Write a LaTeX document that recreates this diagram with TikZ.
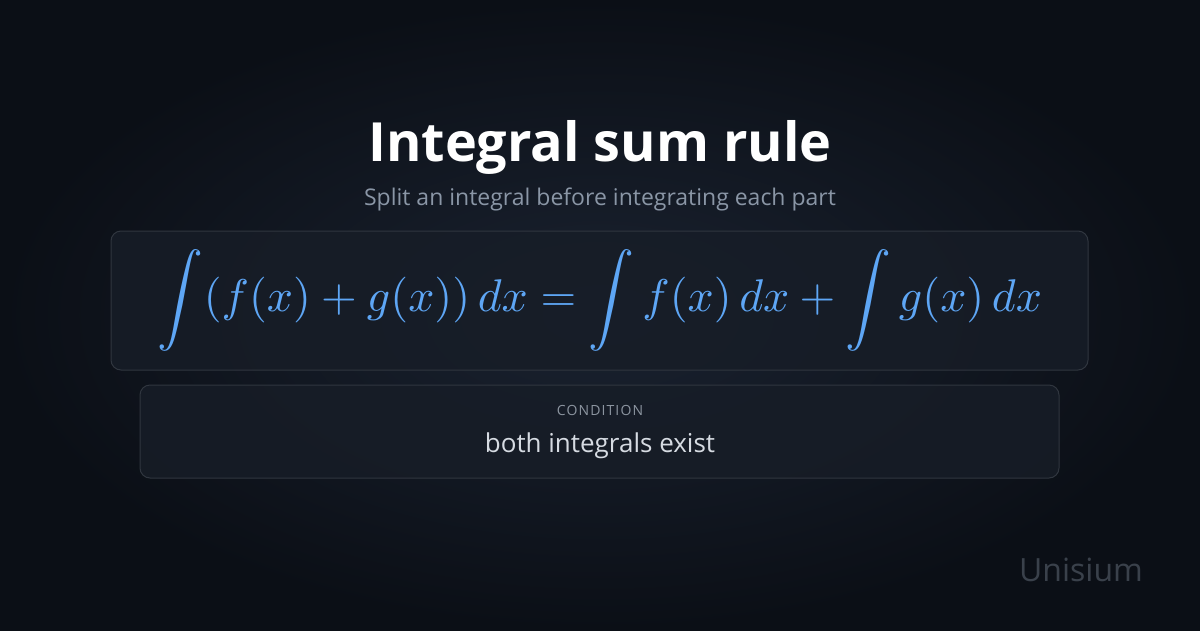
\documentclass[tikz,border=0pt]{standalone}
\usepackage{fontspec}
\usepackage{amsmath}
\usepackage{graphicx}
\setmainfont{Open Sans}
\usetikzlibrary{shadings}
\definecolor{bgo}{HTML}{0B0F16}
\definecolor{bgi}{HTML}{1A2230}
\definecolor{boxf}{HTML}{171D27}
\definecolor{boxd}{HTML}{30363F}
\definecolor{mblue}{HTML}{5EA6F5}
\definecolor{subg}{HTML}{8A96A6}
\definecolor{condg}{HTML}{8C95A0}
\definecolor{condt}{HTML}{D6DBE2}
\definecolor{brand}{HTML}{3A414B}
\tikzset{x=1pt,y=-1pt,
  panel/.style={draw=boxd,line width=1pt,fill=boxf,fill opacity=0.85,rounded corners=10pt}}
\begin{document}
\begin{tikzpicture}
\useasboundingbox (0,0) rectangle (1200,630);
\shade[inner color=bgi,outer color=bgo] (0,0) rectangle (1200,630);
\node[inner sep=0pt] (title) at (600,147) {\fontsize{54}{60}\selectfont\bfseries\color{white}Integral sum rule};
\node[inner sep=0pt] (sub) at (600,199) {\fontsize{23}{26}\selectfont\color{subg}Split an integral before integrating each part};
\draw[panel] (111,231) rectangle (1088,370);
\node[text=mblue] (eq) at (600,300) {\resizebox{884pt}{!}{$\displaystyle\int (f(x)+g(x))\,dx=\int f(x)\,dx+\int g(x)\,dx$}};
\draw[panel] (140,385) rectangle (1059,478);
\node (cl) at (600,410) {\fontsize{14}{18}\selectfont\color{condg}\addfontfeature{LetterSpace=8}CONDITION};
\node (ct) at (600,446) {\fontsize{26}{30}\selectfont\color{condt}both integrals exist};
\node (br) at (1081,570) {\fontsize{32}{36}\selectfont\color{brand}Unisium};
\end{tikzpicture}
\end{document}
